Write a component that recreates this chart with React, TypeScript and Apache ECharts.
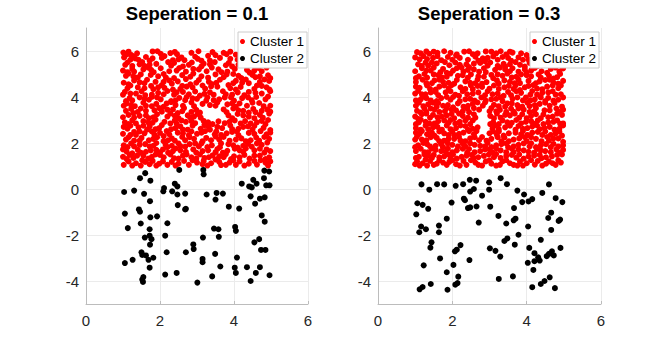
import React, { useEffect, useRef } from "react";
import * as echarts from "echarts";

const titles = ["Seperation = 0.1", "Seperation = 0.3"];
const seriesNames = ["Cluster 1", "Cluster 2"];
const xTicks = [0, 2, 4, 6];
const yTicks = [-4, -2, 0, 2, 4, 6];

// Left panel (separation 0.1), cluster 1 (red)
const cluster1A: number[][] = [
  [1.01,5.93],[1.1,5.85],[1.15,5.97],[1.38,5.9],[1.8,5.98],[1.93,5.99],[2.28,5.91],[2.4,5.96],[2.46,5.86],[3.04,5.99],[3.5,5.82],[3.72,5.92],[3.8,5.86],[3.9,5.97],[4.05,5.84],[4.3,5.95],[4.55,5.9],[4.62,5.83],[4.78,5.96],
  [1.03,5.72],[1.2,5.62],[1.27,5.77],[1.33,5.68],[1.62,5.74],[1.72,5.58],[2.05,5.7],[2.12,5.78],[2.5,5.64],[2.58,5.72],[2.66,5.6],[2.95,5.75],[3.02,5.66],[3.3,5.79],[3.35,5.58],[3.62,5.7],[4.1,5.62],[4.18,5.74],[4.42,5.68],[4.7,5.75],[4.84,5.6],[4.9,5.7],
  [1.06,5.4],[1.12,5.5],[1.45,5.42],[1.52,5.52],[1.58,5.35],[1.9,5.44],[2.22,5.52],[2.3,5.36],[2.38,5.48],[2.78,5.4],[2.86,5.5],[3.12,5.33],[3.18,5.45],[3.48,5.52],[3.78,5.38],[3.86,5.48],[3.95,5.33],[4.25,5.45],[4.5,5.53],[4.58,5.38],[4.96,5.5],
  [1.0,5.15],[1.25,5.22],[1.3,5.1],[1.68,5.28],[1.76,5.18],[1.83,5.08],[2.02,5.25],[2.45,5.15],[2.52,5.26],[2.7,5.1],[3.05,5.2],[3.26,5.12],[3.4,5.28],[3.58,5.2],[3.66,5.08],[4.02,5.22],[4.35,5.18],[4.42,5.06],[4.66,5.26],[4.75,5.12],[4.88,5.28],
  [1.08,4.92],[1.15,5.02],[1.4,4.85],[1.48,4.98],[1.95,4.9],[2.1,5.0],[2.16,4.84],[2.6,4.95],[2.82,4.88],[2.9,5.02],[3.12,4.9],[3.5,4.98],[3.72,4.86],[3.8,4.98],[4.12,4.92],[4.2,4.82],[4.5,4.96],[4.58,4.86],[4.92,4.94],[4.98,4.82],
  [1.02,4.62],[1.3,4.72],[1.58,4.6],[1.65,4.75],[1.88,4.66],[2.25,4.72],[2.32,4.58],[2.48,4.68],[2.7,4.78],[2.98,4.62],[3.05,4.74],[3.32,4.66],[3.4,4.56],[3.62,4.75],[3.98,4.6],[4.05,4.7],[4.32,4.76],[4.4,4.6],[4.7,4.66],[4.82,4.76],
  [1.12,4.38],[1.2,4.5],[1.4,4.42],[1.76,4.48],[1.82,4.34],[2.05,4.52],[2.12,4.4],[2.55,4.35],[2.6,4.48],[2.88,4.42],[3.15,4.5],[3.22,4.36],[3.55,4.45],[3.85,4.52],[3.9,4.38],[4.18,4.44],[4.55,4.35],[4.62,4.5],[4.88,4.42],[4.96,4.32],
  [1.0,4.1],[1.05,4.22],[1.35,4.15],[1.5,4.25],[1.6,4.08],[1.95,4.18],[2.2,4.26],[2.38,4.1],[2.45,4.2],[2.78,4.12],[2.95,4.24],[3.08,4.06],[3.35,4.2],[3.45,4.1],[3.7,4.25],[3.78,4.12],[4.1,4.2],[4.28,4.08],[4.4,4.22],[4.75,4.15],[4.98,4.25],
  [1.18,3.95],[1.25,3.85],[1.45,3.98],[1.7,3.88],[1.78,4.0],[2.02,3.9],[2.3,3.82],[2.52,3.96],[2.68,3.86],[2.72,4.0],[3.0,3.92],[3.25,3.84],[3.28,3.98],[3.6,3.9],[3.92,3.98],[4.0,3.84],[4.22,3.95],[4.48,3.86],[4.6,4.0],[4.85,3.9],[4.92,4.02],
  [1.02,3.62],[1.1,3.72],[1.32,3.6],[1.55,3.75],[1.62,3.62],[1.9,3.7],[2.1,3.58],[2.18,3.72],[2.42,3.65],[2.85,3.76],[2.92,3.6],[3.15,3.7],[3.5,3.62],[3.55,3.76],[3.82,3.68],[4.05,3.58],[4.15,3.72],[4.35,3.62],[4.68,3.74],[4.8,3.6],
  [1.08,3.4],[1.22,3.48],[1.4,3.35],[1.48,3.5],[1.85,3.42],[1.98,3.52],[2.05,3.36],[2.35,3.46],[2.6,3.38],[2.65,3.52],[2.98,3.44],[3.08,3.32],[3.72,3.46],[3.8,3.34],[3.98,3.5],[4.25,3.4],[4.52,3.48],[4.58,3.34],[4.9,3.45],[4.98,3.36],
  [1.0,3.12],[1.15,3.22],[1.3,3.1],[1.62,3.2],[1.7,3.08],[1.92,3.25],[2.2,3.15],[2.28,3.28],[2.5,3.08],[2.75,3.2],[2.82,3.1],[3.02,3.26],[3.85,3.2],[3.95,3.08],[4.1,3.26],[4.4,3.15],[4.7,3.22],[4.78,3.1],[4.95,3.28],
  [1.05,2.9],[1.25,2.98],[1.35,2.85],[1.55,2.95],[1.8,2.88],[1.88,3.02],[2.12,2.92],[2.4,2.98],[2.45,2.84],[2.7,2.92],[2.95,2.86],[3.18,2.96],[3.42,2.82],[3.58,2.94],[3.75,2.86],[4.02,2.98],[4.18,2.85],[4.3,2.95],[4.62,2.9],[4.85,2.82],[4.92,3.0],
  [1.12,2.62],[1.2,2.75],[1.42,2.68],[1.65,2.58],[1.72,2.72],[1.98,2.65],[2.05,2.78],[2.3,2.6],[2.55,2.72],[2.62,2.58],[2.88,2.75],[3.1,2.62],[3.3,2.72],[3.35,2.58],[3.68,2.65],[3.9,2.76],[3.95,2.6],[4.25,2.7],[4.5,2.58],[4.55,2.74],[4.8,2.66],[4.98,2.56],
  [1.0,2.4],[1.3,2.48],[1.35,2.35],[1.58,2.42],[1.78,2.5],[1.85,2.36],[2.0,2.44],[2.18,2.52],[2.25,2.38],[2.48,2.45],[2.78,2.34],[2.85,2.5],[3.0,2.4],[3.22,2.52],[3.48,2.38],[3.52,2.5],[3.8,2.42],[4.08,2.5],[4.12,2.34],[4.4,2.44],[4.72,2.52],[4.88,2.38],
  [1.08,2.15],[1.15,2.25],[1.45,2.1],[1.5,2.22],[1.7,2.12],[1.92,2.25],[2.1,2.08],[2.32,2.2],[2.4,2.1],[2.6,2.26],[2.68,2.12],[2.92,2.18],[3.15,2.08],[3.25,2.22],[3.6,2.15],[3.72,2.26],[3.88,2.1],[4.2,2.2],[4.32,2.08],[4.6,2.24],[4.68,2.1],[4.95,2.18],
  [1.02,1.9],[1.22,1.98],[1.3,1.85],[1.6,1.95],[1.82,1.88],[1.9,2.0],[2.15,1.92],[2.2,1.82],[2.5,1.98],[2.55,1.86],[2.8,1.95],[3.05,1.85],[3.12,1.98],[3.4,1.9],[3.62,1.82],[3.65,1.98],[3.98,1.9],[4.1,1.8],[4.38,1.96],[4.48,1.84],[4.75,1.92],[4.9,2.02],
  [1.1,1.62],[1.4,1.7],[1.48,1.58],[1.75,1.68],[2.0,1.6],[2.08,1.72],[2.35,1.65],[2.42,1.76],[2.7,1.62],[2.9,1.72],[2.98,1.58],[3.3,1.68],[3.5,1.6],[3.55,1.74],[3.82,1.66],[4.02,1.75],[4.25,1.62],[4.32,1.76],[4.55,1.68],[4.82,1.58],[4.88,1.72],
  [1.0,1.4],[1.18,1.48],[1.28,1.35],[1.55,1.45],[1.68,1.32],[1.88,1.5],[2.1,1.38],[2.28,1.5],[2.38,1.34],[2.62,1.45],[2.85,1.38],[3.08,1.5],[3.2,1.35],[3.42,1.46],[3.72,1.38],[3.78,1.52],[4.0,1.42],[4.28,1.48],[4.42,1.32],[4.7,1.45],[4.95,1.38],
  [1.02,1.05],[1.15,1.2],[1.35,1.12],[1.48,1.02],[1.6,1.18],[1.72,1.08],[1.8,1.22],[1.98,1.1],[2.2,1.05],[2.32,1.18],[2.5,1.1],[2.65,1.22],[2.78,1.05],[3.0,1.15],[3.15,1.08],[3.18,1.22],[3.38,1.12],[3.6,1.18],[3.65,1.04],[3.88,1.15],[4.05,1.05],[4.15,1.2],[4.4,1.1],[4.55,1.22],[4.62,1.06],[4.85,1.15],[4.92,1.02],
  [1.22,5.83],[2.02,5.88],[2.85,5.92],[3.42,5.95],[4.2,5.93],[4.95,5.82],
  [1.42,5.62],[1.8,5.68],[2.35,5.6],[3.12,5.58],[3.9,5.66],[4.55,5.55],
  [1.25,5.35],[1.72,5.4],[2.62,5.33],[3.35,5.42],[4.12,5.4],[4.72,5.45],
  [1.12,5.08],[1.55,5.2],[2.25,5.12],[2.9,5.22],[3.82,5.1],[4.55,5.15],
  [1.28,4.9],[1.75,4.96],[2.38,4.82],[3.3,4.84],[3.98,5.0],[4.7,4.9],
  [1.15,4.55],[1.45,4.64],[2.1,4.66],[2.82,4.55],[3.52,4.62],[4.22,4.62],[4.95,4.7],
  [1.58,4.38],[1.95,4.42],[2.35,4.32],[2.72,4.45],[3.38,4.46],[4.05,4.32],[4.75,4.48],
  [1.2,4.15],[1.78,4.1],[2.1,4.12],[2.62,4.22],[3.2,4.14],[3.95,4.1],[4.58,4.18],
  [1.08,3.82],[1.58,3.92],[1.92,3.98],[2.42,3.85],[2.88,3.94],[3.45,3.86],[3.75,3.98],[4.38,3.98],
  [1.22,3.65],[1.78,3.6],[2.3,3.78],[2.62,3.62],[3.35,3.65],[3.95,3.72],[4.5,3.75],[4.98,3.62],
  [1.28,3.3],[1.62,3.4],[2.2,3.45],[2.48,3.3],[2.85,3.35],[4.12,3.42],[4.4,3.32],[4.75,3.4],
  [1.45,3.18],[1.82,3.12],[2.4,3.18],[2.92,3.15],[3.1,3.1],[4.25,3.2],[4.55,3.08],
  [1.15,2.82],[1.68,2.9],[2.28,2.85],[2.58,2.98],[2.85,2.95],[3.3,2.9],[3.88,2.92],[4.45,2.85],[4.75,2.96],
  [1.02,2.7],[1.55,2.75],[1.88,2.6],[2.42,2.65],[2.75,2.58],[3.2,2.78],[3.55,2.7],[4.12,2.62],[4.38,2.72],
  [1.2,2.35],[1.45,2.5],[2.1,2.3],[2.62,2.42],[3.12,2.45],[3.65,2.35],[3.95,2.48],[4.55,2.4],[4.98,2.45],
  [1.3,2.1],[1.82,2.18],[2.22,2.12],[2.8,2.25],[3.38,2.12],[3.5,2.28],[4.05,2.15],[4.45,2.12],[4.82,2.26],
  [1.12,1.82],[1.45,1.92],[1.72,1.85],[2.32,1.88],[2.68,1.84],[2.95,1.98],[3.28,1.82],[3.85,1.95],[4.25,1.88],[4.62,1.98],
  [1.0,1.72],[1.25,1.55],[1.62,1.62],[1.9,1.7],[2.22,1.58],[2.55,1.68],[3.15,1.65],[3.7,1.58],[4.15,1.68],[4.7,1.75],[4.98,1.65],
  [1.38,1.45],[1.78,1.4],[2.0,1.48],[2.5,1.32],[2.72,1.5],[2.98,1.32],[3.32,1.38],[3.6,1.42],[3.92,1.3],[4.15,1.38],[4.55,1.45],[4.85,1.3],
  [1.1,1.3],[1.25,1.02],[1.52,1.25],[1.9,1.02],[2.08,1.2],[2.42,1.02],[2.88,1.25],[3.28,1.02],[3.5,1.28],[3.78,1.05],[3.98,1.25],[4.28,1.02],[4.72,1.25],[4.98,1.2]
];

// Left panel, cluster 2 (black)
const cluster2A: number[][] = [
  [1.03,-0.13],[1.30,-0.07],[1.60,0.69],[1.46,0.47],[1.57,-0.21],[1.74,0.36],[1.73,-0.53],[1.05,-1.07],[1.13,-1.70],[1.43,-0.89],
  [1.46,-0.99],[1.48,-1.50],[1.74,-1.23],[1.92,-1.19],[1.72,-1.75],[1.59,-2.11],[1.72,-2.03],[1.77,-2.18],[1.73,-2.42],[1.50,-2.75],
  [1.52,-2.87],[1.62,-2.89],[1.82,-2.99],[1.69,-3.08],[1.26,-3.08],[1.05,-3.22],[1.72,-3.42],[1.55,-3.83],[1.52,-3.94],[1.54,-4.04],
  [2.11,0.04],[2.09,-0.10],[2.33,-0.10],[2.40,0.23],[2.47,0.11],[2.47,-0.24],[2.68,-0.20],[2.52,0.83],[2.48,-0.70],[2.68,-0.89],
  [2.70,-0.86],[2.20,-1.49],[2.14,-2.03],[2.18,-2.75],[2.14,-3.72],[2.45,-3.65],[2.70,-2.75],[2.90,-2.41],[2.91,-2.61],[3.01,-4.07],
  [3.17,0.83],[3.18,0.64],[3.26,-0.24],[3.16,-2.11],[3.15,-3.04],[3.15,-3.18],[3.41,-3.80],[3.49,-2.82],[3.46,-1.72],[3.58,-1.75],
  [3.59,-2.08],[3.63,-3.37],[3.50,-0.46],[3.53,-0.17],[3.70,-0.20],[3.86,-0.77],[4.03,-1.65],[4.05,-1.82],[4.08,-2.98],[4.02,-3.42],
  [4.05,-3.65],[4.14,-0.85],[4.21,0.23],[4.35,-3.40],[4.45,-4.00],[4.41,0.11],[4.48,0.07],[4.52,0.40],[4.61,0.23],[4.45,-0.32],
  [4.57,-0.64],[4.55,-2.32],[4.68,-2.18],[4.59,-3.65],[4.70,-3.40],[4.73,-2.65],[4.85,-2.65],[4.70,-0.42],[4.83,-0.36],[4.75,-1.15],
  [4.83,-1.42],[4.81,0.47],[4.82,0.80],[4.95,0.76],[4.87,0.16],[4.96,0.16],[4.96,-3.75]
];

// Right panel (separation 0.3), cluster 1 (red)
const cluster1B: number[][] = [
  [1.05,5.95],[1.3,5.98],[1.38,5.88],[1.6,5.92],[1.78,5.99],[2.12,5.85],[2.32,5.97],[2.45,5.99],[2.55,5.86],[2.9,5.98],[3.05,5.97],[3.18,5.9],[3.3,5.99],[3.45,5.85],[3.62,5.93],[4.0,5.82],[4.2,5.88],
  [1.0,5.72],[1.12,5.64],[1.22,5.78],[1.48,5.7],[1.7,5.6],[1.88,5.74],[2.0,5.62],[2.2,5.7],[2.62,5.75],[2.7,5.58],[2.82,5.68],[3.1,5.76],[3.22,5.62],[3.5,5.7],[3.58,5.58],[3.78,5.72],[3.9,5.62],[4.15,5.7],[4.45,5.6],[4.6,5.75],[4.72,5.66],[4.9,5.72],
  [1.08,5.42],[1.28,5.5],[1.35,5.36],[1.58,5.46],[1.8,5.52],[1.92,5.38],[2.08,5.5],[2.38,5.42],[2.45,5.3],[2.75,5.48],[2.95,5.36],[3.02,5.5],[3.38,5.44],[3.42,5.32],[3.7,5.52],[3.82,5.4],[4.08,5.48],[4.3,5.35],[4.52,5.5],[4.8,5.42],[4.95,5.32],
  [1.0,5.12],[1.18,5.25],[1.42,5.15],[1.5,5.28],[1.68,5.08],[1.75,5.22],[2.02,5.15],[2.25,5.28],[2.3,5.1],[2.58,5.2],[2.85,5.25],[2.9,5.08],[3.15,5.18],[3.28,5.28],[3.55,5.12],[3.62,5.25],[3.95,5.2],[4.0,5.06],[4.22,5.26],[4.4,5.12],[4.65,5.22],[4.88,5.1],[4.98,5.24],
  [1.1,4.9],[1.25,5.0],[1.32,4.84],[1.62,4.95],[1.85,4.88],[1.95,5.02],[2.15,4.92],[2.42,4.84],[2.5,4.98],[2.7,4.9],[3.05,4.96],[3.1,4.82],[3.35,4.92],[3.48,5.02],[3.72,4.88],[3.85,4.98],[4.12,4.9],[4.32,4.98],[4.38,4.84],[4.6,4.92],[4.82,4.86],[4.9,5.0],
  [1.02,4.65],[1.2,4.75],[1.45,4.6],[1.52,4.72],[1.75,4.66],[2.05,4.58],[2.12,4.74],[2.35,4.68],[2.62,4.6],[2.68,4.76],[2.92,4.65],[3.2,4.72],[3.25,4.58],[3.55,4.66],[3.78,4.76],[3.82,4.6],[4.05,4.7],[4.25,4.6],[4.5,4.74],[4.72,4.62],[4.98,4.7],
  [1.12,4.4],[1.32,4.5],[1.4,4.35],[1.65,4.45],[1.9,4.38],[1.98,4.52],[2.22,4.42],[2.5,4.5],[2.55,4.34],[2.8,4.44],[3.0,4.36],[3.12,4.5],[3.4,4.42],[3.65,4.35],[3.7,4.5],[3.95,4.42],[4.18,4.52],[4.28,4.36],[4.55,4.45],[4.85,4.38],[4.92,4.5],
  [1.0,4.15],[1.08,4.26],[1.28,4.12],[1.55,4.22],[1.62,4.08],[1.82,4.2],[2.08,4.1],[2.28,4.25],[2.4,4.12],[2.7,4.2],[2.88,4.08],[2.95,4.25],[3.22,4.15],[3.5,4.22],[3.58,4.08],[3.85,4.18],[4.1,4.1],[4.15,4.26],[4.42,4.18],[4.7,4.25],[4.78,4.1],
  [1.15,3.9],[1.2,4.02],[1.42,3.85],[1.7,3.95],[1.95,3.88],[2.02,4.0],[2.2,3.82],[2.48,3.92],[2.6,3.84],[2.78,3.98],[3.05,3.9],[3.3,3.98],[3.35,3.82],[3.62,3.92],[3.9,3.85],[3.98,3.98],[4.22,3.9],[4.5,3.82],[4.58,3.96],[4.85,3.88],[4.98,3.98],
  [1.02,3.62],[1.1,3.75],[1.35,3.68],[1.58,3.58],[1.62,3.74],[1.88,3.65],[2.15,3.72],[2.3,3.58],[2.55,3.7],[2.82,3.62],[2.88,3.76],[3.12,3.66],[3.42,3.58],[3.48,3.72],[3.75,3.65],[4.02,3.75],[4.08,3.6],[4.35,3.7],[4.62,3.62],[4.75,3.74],[4.95,3.58],
  [1.05,3.4],[1.25,3.5],[1.3,3.35],[1.52,3.45],[1.8,3.38],[1.85,3.52],[2.1,3.42],[2.4,3.5],[2.45,3.34],[2.72,3.45],[3.0,3.38],[3.05,3.52],[3.28,3.44],[3.58,3.5],[3.65,3.36],[3.92,3.45],[4.2,3.38],[4.25,3.52],[4.48,3.42],[4.8,3.5],[4.88,3.35],
  [1.0,3.15],[1.18,3.25],[1.4,3.1],[1.48,3.22],[1.72,3.15],[1.98,3.26],[2.05,3.08],[2.28,3.18],[2.58,3.25],[2.62,3.1],[3.02,3.18],[3.2,3.28],[3.3,3.1],[3.55,3.2],[3.8,3.1],[3.88,3.25],[4.12,3.18],[4.38,3.08],[4.45,3.24],[4.7,3.15],[4.95,3.22],
  [1.1,2.9],[1.15,3.02],[1.38,2.85],[1.62,2.95],[1.9,2.88],[1.95,3.0],[2.2,2.92],[2.48,2.82],[2.55,2.98],[3.1,2.9],[3.25,2.82],[3.35,2.98],[3.6,2.88],[3.72,3.0],[3.98,2.92],[4.2,2.84],[4.3,2.98],[4.58,2.9],[4.82,2.98],[4.9,2.84],
  [1.02,2.65],[1.28,2.75],[1.35,2.6],[1.6,2.7],[1.72,2.58],[1.85,2.76],[2.1,2.65],[2.35,2.74],[2.42,2.58],[2.68,2.68],[3.08,2.62],[3.15,2.76],[3.42,2.68],[3.7,2.58],[3.78,2.74],[4.02,2.65],[4.28,2.76],[4.35,2.6],[4.62,2.7],[4.88,2.62],[4.98,2.76],
  [1.12,2.4],[1.18,2.52],[1.45,2.45],[1.52,2.32],[1.78,2.42],[2.0,2.5],[2.05,2.35],[2.3,2.45],[2.58,2.38],[2.65,2.52],[3.0,2.42],[3.2,2.35],[3.25,2.5],[3.52,2.42],[3.85,2.38],[3.9,2.52],[4.15,2.45],[4.42,2.35],[4.5,2.5],[4.78,2.42],[4.95,2.32],
  [1.0,2.15],[1.05,2.28],[1.3,2.12],[1.58,2.22],[1.65,2.08],[1.9,2.18],[2.18,2.26],[2.22,2.1],[2.48,2.2],[2.72,2.12],[2.8,2.26],[3.05,2.18],[3.32,2.08],[3.4,2.24],[3.65,2.15],[3.95,2.25],[4.0,2.08],[4.25,2.18],[4.55,2.26],[4.6,2.1],[4.85,2.2],
  [1.08,1.9],[1.22,2.0],[1.4,1.85],[1.7,1.95],[1.75,1.82],[2.0,1.92],[2.28,1.98],[2.35,1.84],[2.6,1.92],[2.88,1.85],[2.95,2.0],[3.18,1.9],[3.45,1.98],[3.5,1.82],[3.78,1.92],[4.08,1.85],[4.12,1.99],[4.38,1.9],[4.65,1.82],[4.72,1.96],[4.98,1.9],
  [1.02,1.65],[1.15,1.75],[1.35,1.6],[1.55,1.7],[1.82,1.62],[1.88,1.76],[2.12,1.68],[2.4,1.58],[2.45,1.74],[2.75,1.65],[3.0,1.72],[3.08,1.58],[3.3,1.68],[3.6,1.75],[3.65,1.6],[3.92,1.68],[4.2,1.58],[4.28,1.74],[4.5,1.65],[4.8,1.72],[4.9,1.58],
  [1.1,1.4],[1.25,1.5],[1.45,1.35],[1.5,1.48],[1.78,1.42],[1.95,1.32],[2.02,1.5],[2.25,1.4],[2.52,1.48],[2.58,1.35],[2.85,1.44],[3.12,1.38],[3.18,1.52],[3.45,1.44],[3.72,1.36],[3.8,1.5],[4.05,1.42],[4.35,1.48],[4.4,1.34],[4.68,1.42],[4.95,1.5],
  [1.0,1.08],[1.05,1.2],[1.2,1.12],[1.32,1.02],[1.4,1.22],[1.58,1.1],[1.65,1.25],[1.85,1.05],[1.92,1.18],[2.1,1.08],[2.3,1.22],[2.38,1.05],[2.62,1.15],[2.8,1.02],[2.9,1.2],[3.05,1.1],[3.28,1.05],[3.35,1.2],[3.55,1.12],[3.75,1.02],[3.82,1.2],[4.0,1.12],[4.22,1.06],[4.3,1.22],[4.52,1.1],[4.6,1.2],[4.78,1.05],[4.92,1.15],
  [1.15,5.9],[1.5,5.97],[1.95,5.92],[2.68,5.9],[3.55,5.97],[3.85,5.9],[4.35,5.8],
  [1.32,5.65],[1.6,5.78],[2.1,5.8],[2.42,5.62],[2.95,5.7],[3.35,5.74],[4.05,5.62],[4.3,5.7],[4.82,5.58],
  [1.18,5.35],[1.45,5.5],[2.2,5.4],[2.58,5.45],[2.88,5.55],[3.22,5.35],[3.55,5.42],[3.95,5.32],[4.65,5.45],
  [1.3,5.15],[1.85,5.05],[2.12,5.25],[2.42,5.18],[2.72,5.1],[3.42,5.2],[3.78,5.1],[4.12,5.15],[4.55,5.05],[4.78,5.28],
  [1.02,4.82],[1.5,4.98],[1.72,4.85],[2.28,4.95],[2.85,4.88],[3.22,4.98],[3.6,4.85],[4.0,4.95],[4.72,4.8],
  [1.3,4.6],[1.65,4.75],[1.9,4.62],[2.48,4.62],[2.8,4.58],[3.4,4.72],[3.68,4.6],[4.35,4.68],[4.62,4.75],[4.85,4.58],
  [1.02,4.45],[1.55,4.32],[1.78,4.5],[2.35,4.35],[2.68,4.48],[3.25,4.35],[3.52,4.48],[3.82,4.3],[4.05,4.48],[4.42,4.34],[4.7,4.5],
  [1.18,4.12],[1.42,4.2],[1.95,4.25],[2.18,4.05],[2.55,4.15],[3.08,4.12],[3.38,4.05],[3.72,4.25],[4.28,4.1],[4.58,4.2],[4.92,4.12],
  [1.02,3.85],[1.3,3.95],[1.58,3.82],[1.85,4.0],[2.35,3.9],[2.9,3.84],[3.18,3.92],[3.75,3.98],[4.1,3.85],[4.38,3.98],[4.72,3.84],
  [1.22,3.6],[1.48,3.75],[1.75,3.62],[2.02,3.55],[2.42,3.62],[2.68,3.76],[3.25,3.6],[3.6,3.72],[3.88,3.58],[4.22,3.65],[4.5,3.75],
  [1.15,3.32],[1.42,3.5],[1.65,3.35],[1.98,3.45],[2.28,3.38],[2.58,3.52],[3.18,3.38],[3.45,3.35],[3.78,3.5],[4.08,3.35],[4.62,3.42],[4.98,3.45],
  [1.08,3.05],[1.3,3.28],[1.6,3.12],[1.85,3.2],[2.18,3.28],[2.42,3.1],[3.12,3.08],[3.42,3.22],[3.68,3.28],[4.0,3.08],[4.25,3.25],[4.58,3.12],[4.82,3.28],
  [1.02,2.82],[1.28,2.92],[1.52,2.85],[1.78,2.98],[2.08,2.85],[2.35,2.98],[3.02,2.82],[3.48,2.9],[3.85,2.85],[4.12,2.95],[4.45,2.82],[4.72,2.92],[4.98,2.85],
  [1.15,2.58],[1.48,2.68],[1.95,2.6],[2.22,2.76],[2.55,2.62],[3.25,2.6],[3.55,2.75],[3.9,2.62],[4.15,2.72],[4.48,2.65],[4.75,2.58],
  [1.02,2.45],[1.32,2.38],[1.65,2.5],[1.9,2.35],[2.18,2.4],[2.45,2.52],[3.1,2.5],[3.38,2.32],[3.7,2.45],[4.02,2.35],[4.3,2.48],[4.65,2.35],[4.88,2.5],
  [1.18,2.15],[1.42,2.25],[1.78,2.1],[2.05,2.18],[2.35,2.08],[2.6,2.25],[2.92,2.1],[3.22,2.25],[3.52,2.08],[3.8,2.2],[4.12,2.25],[4.4,2.08],[4.72,2.2],[4.98,2.05],
  [1.0,1.82],[1.32,1.95],[1.55,1.88],[1.88,1.98],[2.15,1.85],[2.48,1.98],[2.75,1.88],[3.05,1.82],[3.32,1.95],[3.65,1.85],[3.92,1.98],[4.25,1.82],[4.52,1.95],[4.85,1.85],
  [1.25,1.6],[1.45,1.75],[1.7,1.65],[2.0,1.6],[2.28,1.75],[2.6,1.6],[2.88,1.72],[3.18,1.75],[3.45,1.6],[3.78,1.72],[4.05,1.62],[4.38,1.68],[4.65,1.6],[4.98,1.7],
  [1.02,1.35],[1.35,1.45],[1.65,1.38],[1.9,1.5],[2.12,1.32],[2.38,1.45],[2.7,1.38],[2.98,1.5],[3.3,1.35],[3.6,1.48],[3.92,1.32],[4.2,1.45],[4.52,1.38],[4.82,1.48],
  [1.12,1.02],[1.28,1.28],[1.5,1.05],[1.75,1.15],[2.0,1.25],[2.2,1.02],[2.5,1.25],[2.7,1.05],[3.0,1.25],[3.18,1.02],[3.45,1.25],[3.65,1.05],[3.9,1.02],[4.12,1.25],[4.42,1.02],[4.7,1.12],[4.85,1.25]
];

// Right panel, cluster 2 (black)
const cluster2B: number[][] = [
  [1.17,0.20],[1.38,-0.03],[1.59,0.21],[1.78,0.20],[1.06,-0.62],[1.20,-0.69],[1.35,-0.86],[1.03,-1.10],[1.16,-1.63],[1.11,-1.88],
  [1.29,-1.75],[1.64,-1.59],[1.64,-1.88],[1.85,-1.29],[1.44,-2.32],[1.41,-2.55],[1.67,-3.02],[1.23,-3.32],[1.12,-4.36],[1.20,-4.26],
  [1.42,-4.13],[1.85,-3.62],[1.87,-4.38],[2.03,-3.30],[2.16,-3.81],[2.08,-4.16],[2.14,-4.09],[2.07,-2.71],[2.12,-2.64],[2.22,-2.44],
  [2.46,-3.09],[1.98,-0.59],[2.09,0.14],[2.29,0.21],[2.47,0.40],[2.64,0.36],[2.58,0.00],[2.48,-0.11],[2.31,-0.42],[2.34,-0.49],
  [2.65,-0.76],[2.48,-0.80],[2.42,-0.83],[2.80,-0.29],[2.71,-1.46],[2.99,0.29],[2.99,-0.03],[3.30,0.47],[3.47,0.21],[3.02,-0.77],
  [3.24,-1.17],[3.45,-1.50],[3.65,-1.36],[3.70,-1.29],[3.66,-0.83],[3.75,-0.07],[3.93,-0.24],[3.88,-0.57],[4.05,-0.54],[4.15,-0.44],
  [4.04,-1.63],[3.78,-1.99],[3.48,-2.15],[3.40,-2.26],[3.68,-2.42],[3.01,-2.58],[3.16,-2.69],[3.29,-2.94],[3.25,-3.91],[3.63,-3.80],
  [4.07,-2.56],[4.21,-2.79],[4.31,-2.97],[4.35,-3.11],[4.21,-3.14],[4.03,-3.21],[4.18,-3.52],[4.38,-2.21],[4.15,-4.27],[4.38,-4.13],
  [4.48,-4.00],[4.62,-3.84],[4.76,-4.31],[4.54,-2.92],[4.60,-2.82],[4.68,-2.71],[4.73,-2.89],[4.91,-2.56],[4.42,-0.17],[4.60,0.20],
  [4.78,-0.40],[4.96,-0.57],[4.66,-1.03],[4.58,-1.26],[4.90,-1.33],[4.86,-1.39],[4.66,-1.78]
];

const FONT = '"Liberation Sans", Arial, Helvetica, sans-serif';
const AXIS_COLOR = "#bcbcbc";
const LABEL_COLOR = "#262626";
const GRID_COLOR = "#ebebeb";

export default function App() {
  const ref = useRef<HTMLDivElement>(null);

  useEffect(() => {
    if (!ref.current) return;
    const chart = echarts.init(ref.current, undefined, { renderer: "svg" });

    const grids = [
      { left: 86, top: 28, width: 222, height: 276 },
      { left: 378, top: 28, width: 223, height: 276 },
    ];
    const centers = [197, 489];

    const xAxis = grids.map((_, i) => ({
      type: "value",
      gridIndex: i,
      min: xTicks[0],
      max: xTicks[xTicks.length - 1],
      interval: xTicks[1] - xTicks[0],
      axisLine: { show: true, onZero: false, lineStyle: { color: AXIS_COLOR, width: 1 } },
      axisTick: { show: true, inside: true, length: 3, lineStyle: { color: AXIS_COLOR } },
      axisLabel: { color: LABEL_COLOR, fontSize: 15, fontFamily: FONT, margin: 9 },
      splitLine: { show: true, lineStyle: { color: GRID_COLOR, width: 1 } },
    }));

    const yAxis = grids.map((_, i) => ({
      type: "value",
      gridIndex: i,
      min: -5,
      max: 7,
      splitNumber: 6,
      axisLine: { show: true, onZero: false, lineStyle: { color: AXIS_COLOR, width: 1 } },
      axisTick: { show: false },
      axisLabel: {
        color: LABEL_COLOR,
        fontSize: 15,
        fontFamily: FONT,
        margin: 7,
        showMinLabel: false,
        showMaxLabel: false,
        formatter: (v: number) => (yTicks.includes(v) ? String(v) : ""),
      },
      splitLine: { show: true, showMinLine: false, showMaxLine: false, lineStyle: { color: GRID_COLOR, width: 1 } },
    }));

    const data = [
      [cluster1A, cluster2A],
      [cluster1B, cluster2B],
    ];
    const colors = ["#ff0000", "#000000"];
    const series: any[] = [];
    data.forEach((pair, gi) => {
      pair.forEach((pts, si) => {
        series.push({
          type: "scatter",
          name: seriesNames[si],
          xAxisIndex: gi,
          yAxisIndex: gi,
          data: pts,
          symbol: "circle",
          symbolSize: 6,
          itemStyle: { color: colors[si], opacity: 1 },
          emphasis: { disabled: true },
        });
      });
    });

    const legendLefts = [238, 530];
    const legend = legendLefts.map((l) => ({
      data: seriesNames,
      orient: "vertical",
      left: l,
      top: 32,
      icon: "circle",
      itemWidth: 5,
      itemHeight: 5,
      itemGap: 0,
      padding: [1, 3, 1, 2],
      borderColor: "#cccccc",
      borderWidth: 1,
      backgroundColor: "#ffffff",
      selectedMode: false,
      textStyle: { fontSize: 13.5, color: "#000", fontFamily: FONT, lineHeight: 17 },
    }));

    const graphic = titles.map((t, i) => ({
      type: "text",
      x: centers[i],
      y: 13,
      style: {
        text: t,
        font: `bold 18.5px ${FONT}`,
        fill: "#000",
        textAlign: "center",
        textVerticalAlign: "middle",
        align: "center",
        verticalAlign: "middle",
      },
    }));

    chart.setOption({
      animation: false,
      backgroundColor: "#ffffff",
      grid: grids,
      xAxis,
      yAxis,
      legend,
      graphic,
      series,
    } as any);

    return () => chart.dispose();
  }, []);

  return (
    <div
      ref={ref}
      style={{ position: "absolute", left: 0, top: 0, width: 663, height: 343, background: "#fff" }}
    />
  );
}
